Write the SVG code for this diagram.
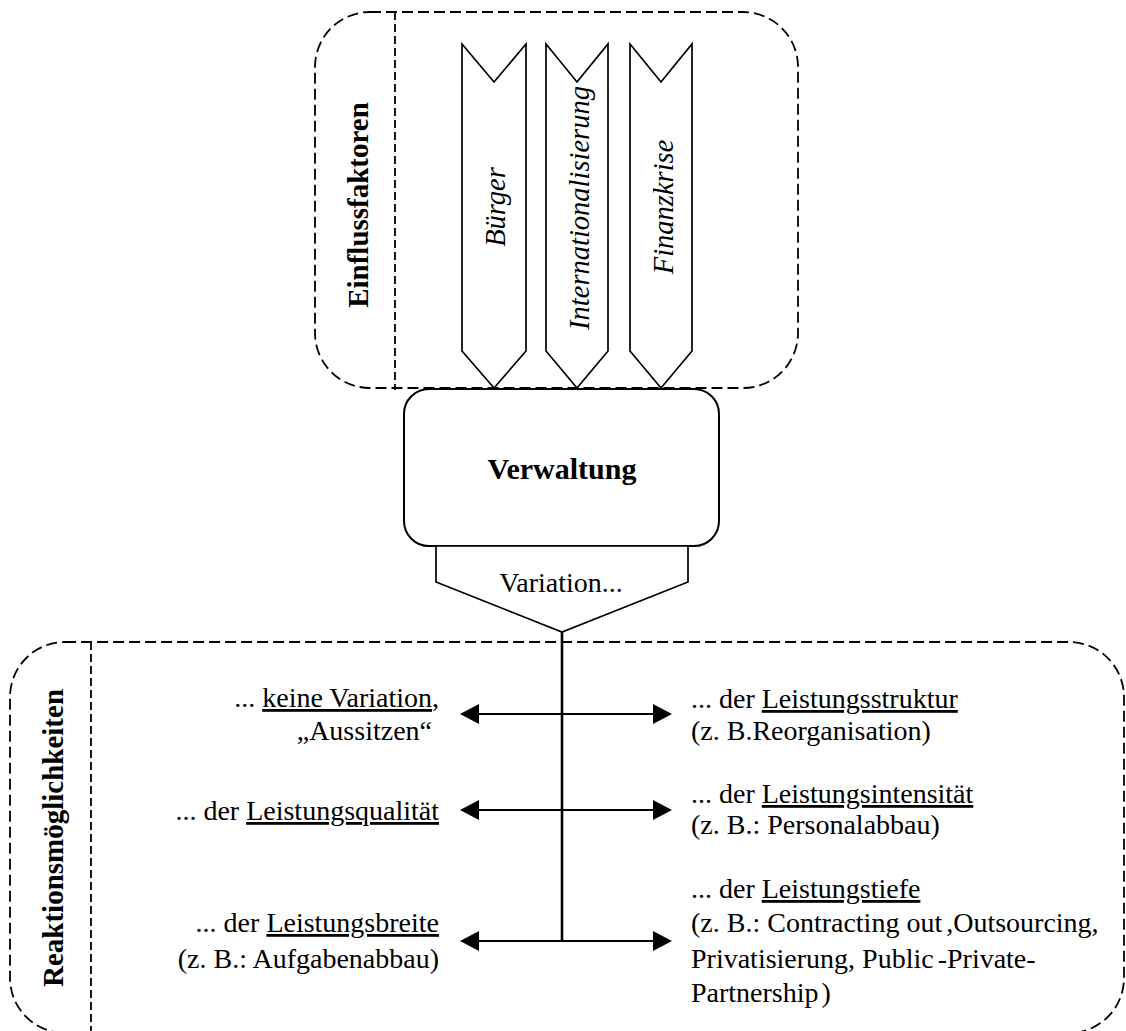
<svg xmlns="http://www.w3.org/2000/svg" width="1126" height="1031" viewBox="0 0 1126 1031">
  <defs>
    <style>
      .frame { fill: none; stroke: #000; stroke-width: 1.8; stroke-dasharray: 11 5; }
      .divider { fill: none; stroke: #000; stroke-width: 1.8; stroke-dasharray: 8 4; }
      .shape { fill: #fff; stroke: #000; stroke-width: 1.7; stroke-linejoin: miter; }
      .box { fill: #fff; stroke: #000; stroke-width: 2; }
      .conn { fill: none; stroke: #000; stroke-width: 2; }
      .stem { fill: none; stroke: #000; stroke-width: 2.6; }
      .t { font-family: "Liberation Serif", "Times New Roman", serif; font-size: 28px; fill: #000; }
      .label { font-family: "Liberation Serif", "Times New Roman", serif; font-size: 29px; font-weight: bold; fill: #000; text-anchor: middle; }
      .factor { font-family: "Liberation Serif", "Times New Roman", serif; font-size: 28.5px; font-style: italic; fill: #000; text-anchor: middle; }
      .u { text-decoration: underline; }
      .end { text-anchor: end; }
    </style>
    <marker id="head" viewBox="0 0 19 20" refX="1" refY="10" markerWidth="19" markerHeight="20" markerUnits="userSpaceOnUse" orient="auto-start-reverse">
      <path d="M0,0 L19,10 L0,20 z" fill="#000"/>
    </marker>
  </defs>

  <rect width="1126" height="1031" fill="#fff"/>

  <!-- influencing factors frame -->
  <g id="einflussfaktoren">
    <rect class="frame" x="315" y="12" width="483" height="376" rx="55" ry="55"/>
    <line class="divider" x1="395" y1="12" x2="395" y2="390"/>
    <text class="label" transform="translate(368,205) rotate(-90)">Einflussfaktoren</text>
  </g>

  <!-- factor chevrons -->
  <g id="faktor-buerger">
    <polygon class="shape" points="462,44 494,82 526,44 526,351 494,388 462,351"/>
    <text class="factor" transform="translate(505,207) rotate(-90)">Bürger</text>
  </g>
  <g id="faktor-internationalisierung">
    <polygon class="shape" points="546,44 577,82 608,44 608,351 577,388 546,351"/>
    <text class="factor" transform="translate(589,208) rotate(-90)">Internationalisierung</text>
  </g>
  <g id="faktor-finanzkrise">
    <polygon class="shape" points="630,44 661,82 692,44 692,351 661,388 630,351"/>
    <text class="factor" transform="translate(673,207) rotate(-90)">Finanzkrise</text>
  </g>

  <!-- reaction options frame -->
  <g id="reaktionsmoeglichkeiten">
    <rect class="frame" x="10" y="642" width="1114" height="391" rx="55" ry="55"/>
    <line class="divider" x1="91" y1="642" x2="91" y2="1031"/>
    <text class="label" transform="translate(63,838) rotate(-90)">Reaktionsmöglichkeiten</text>
  </g>

  <!-- administration -->
  <g id="verwaltung">
    <rect class="box" x="404" y="389" width="315" height="157" rx="25" ry="25"/>
    <text class="label" x="562" y="479" style="font-size:30px">Verwaltung</text>
  </g>

  <g id="variation">
    <polygon class="shape" points="436,546 436,582 562,632 688,582 688,546"/>
    <text class="t" x="561" y="592" text-anchor="middle">Variation...</text>
  </g>

  <!-- connectors -->
  <g id="connectors">
    <line class="stem" x1="562" y1="632" x2="562" y2="941"/>
    <line class="conn" x1="478" y1="714" x2="654" y2="714" marker-start="url(#head)" marker-end="url(#head)"/>
    <line class="conn" x1="478" y1="810" x2="654" y2="810" marker-start="url(#head)" marker-end="url(#head)"/>
    <line class="conn" x1="478" y1="941" x2="654" y2="941" marker-start="url(#head)" marker-end="url(#head)"/>
  </g>

  <!-- left options -->
  <g id="option-keine-variation">
    <text class="t end" x="439" y="707">... <tspan class="u">keine Variation</tspan>,</text>
    <text class="t end" x="432" y="740">„Aussitzen“</text>
  </g>
  <g id="option-leistungsqualitaet">
    <text class="t end" x="439" y="820">... der <tspan class="u">Leistungsqualität</tspan></text>
  </g>
  <g id="option-leistungsbreite">
    <text class="t end" x="439" y="932">... der <tspan class="u">Leistungsbreite</tspan></text>
    <text class="t end" x="439" y="968">(z. B.: Aufgabenabbau)</text>
  </g>

  <!-- right options -->
  <g id="option-leistungsstruktur">
    <text class="t" x="691" y="708">... der <tspan class="u">Leistungsstruktur</tspan></text>
    <text class="t" x="691" y="740">(z. B.Reorganisation)</text>
  </g>
  <g id="option-leistungsintensitaet">
    <text class="t" x="691" y="803">... der <tspan class="u">Leistungsintensität</tspan></text>
    <text class="t" x="691" y="834">(z. B.: Personalabbau)</text>
  </g>
  <g id="option-leistungstiefe">
    <text class="t" x="691" y="898">... der <tspan class="u">Leistungstiefe</tspan></text>
    <text class="t" x="691" y="932">(z. B.: Contracting out<tspan dx="4">,Outsourcing,</tspan></text>
    <text class="t" x="691" y="968">Privatisierung, Public<tspan dx="4">-Private-</tspan></text>
    <text class="t" x="691" y="1002">Partnership<tspan dx="3">)</tspan></text>
  </g>
</svg>
